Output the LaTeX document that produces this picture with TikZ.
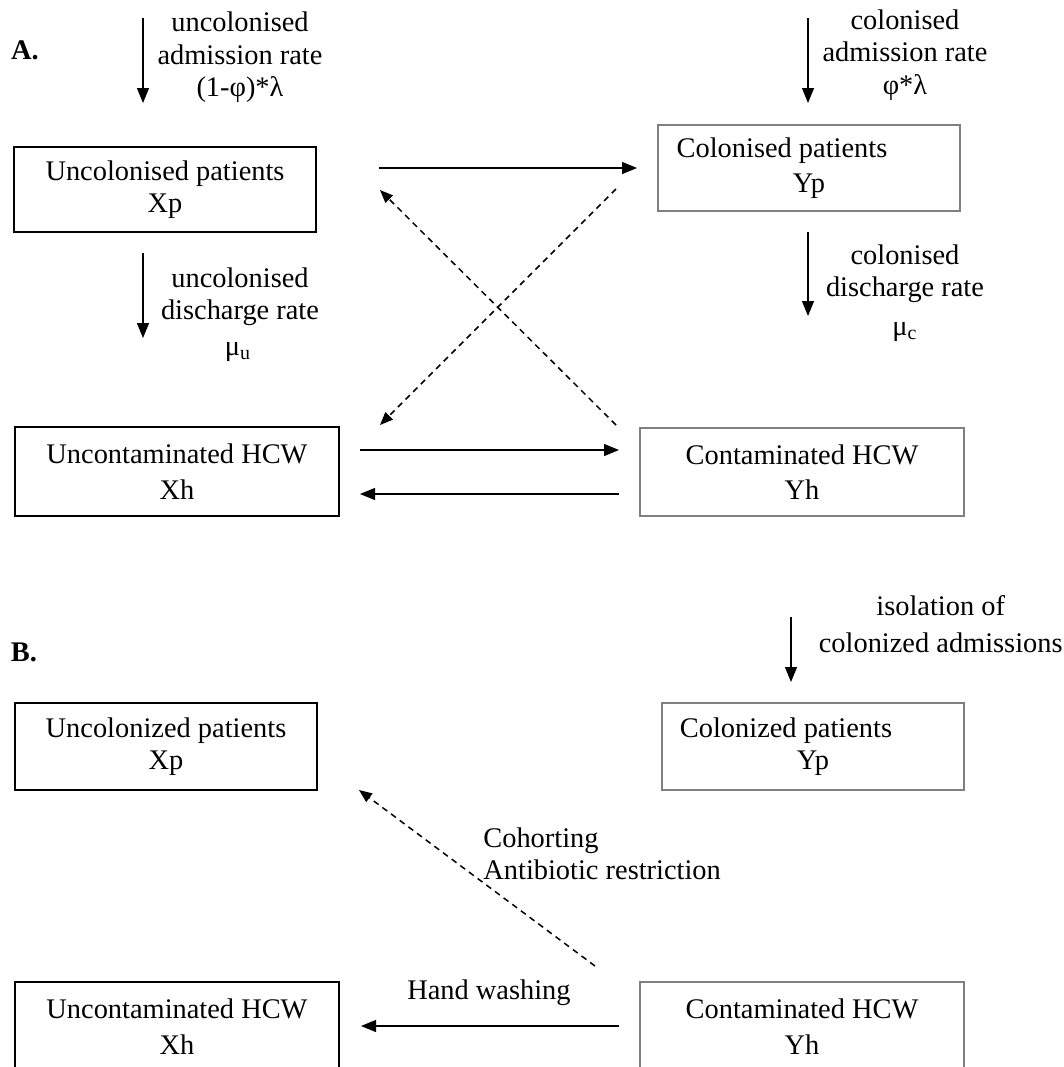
\documentclass[tikz,border=0pt]{standalone}
\usepackage{fontspec}
\setmainfont{Liberation Serif}
\usetikzlibrary{arrows.meta}

\begin{document}
\begin{tikzpicture}[x=0.5pt,y=-0.5pt,font=\fontsize{14.2}{16.2}\selectfont,
 mainbox/.style={draw,line width=1.2pt,inner sep=0pt,align=center,
 minimum width=#1,minimum height=43pt},
 sidebox/.style={draw=black!50,line width=0.7pt,inner sep=0pt,align=center,
 minimum width=#1,minimum height=43pt},
 flow/.style={line width=0.6pt,-{Triangle[length=7.5pt,width=6pt]}},
 contact/.style={line width=0.75pt,dash pattern=on 3pt off 2.4pt,
 -{Triangle[length=6.5pt,width=5.2pt]}},
 rate/.style={align=center,inner sep=0pt},
 panel/.style={font=\fontsize{14.2}{16.2}\selectfont\bfseries,inner sep=0pt},
 ]
 \useasboundingbox (0,0) rectangle (1064,1067);
 \clip (0,0) rectangle (1064,1067);
 % panel A
 \node[panel] (pa) at (25,50) {A.};
 \node[mainbox=151pt,minimum height=42.5pt] (xpa) at (165,189.5) {Uncolonised patients\\Xp};
 \node[sidebox=151pt] (ypa) at (809,168) {Colonised patients\hspace*{27pt}\\[1.5pt]Yp};
 \node[mainbox=162pt,minimum height=44.5pt] (xha) at (177,471.5) {Uncontaminated HCW\\[1.5pt]Xh};
 \node[sidebox=162pt,minimum height=44pt] (yha) at (802,472) {Contaminated HCW\\[1.5pt]Yh};
 \node[rate] (inua) at (240,57.5) {uncolonised\\admission rate\\(1-φ)*λ};
 \node[rate] (inca) at (905,55) {colonised\\admission rate\\φ*λ};
 \node[rate] (outua) at (240,296.5) {uncolonised\\discharge rate};
 \node[rate] (muu) at (238,352) {μ\textsubscript{u}};
 \node[rate] (outca) at (905,274) {colonised\\discharge rate};
 \node[rate] (muc) at (905,332) {μ\textsubscript{c}};
 \coordinate (a1) at (143,18); \coordinate (a2) at (143,103);
 \coordinate (a3) at (808,18); \coordinate (a4) at (808,103);
 \coordinate (a5) at (143,253); \coordinate (a6) at (143,338);
 \coordinate (a7) at (808,232); \coordinate (a8) at (808,316);
 \foreach \S/\E in {a1/a2,a3/a4,a5/a6,a7/a8}
 {\draw[flow] (\S) -- (\E);}
 \coordinate (xp-out) at (379,168); \coordinate (yp-in) at (637,168);
 \coordinate (xh-out) at (360,450); \coordinate (yh-in) at (619,450);
 \coordinate (yh-out) at (619,494); \coordinate (xh-in) at (360,494);
 \draw[flow] (xp-out) -- (yp-in);
 \draw[flow] (xh-out) -- (yh-in);
 \draw[flow] (yh-out) -- (xh-in);
 \coordinate (yh-up) at (616,425); \coordinate (xp-dn) at (380,190);
 \coordinate (yp-dn) at (616,189); \coordinate (xh-up) at (380,425);
 \draw[contact] (yh-up) -- (xp-dn);
 \draw[contact] (yp-dn) -- (xh-up);
 % panel B
 \node[panel] (pb) at (24,652) {B.};
 \node[mainbox=151pt,minimum height=43.5pt] (xpb) at (166,746.5) {Uncolonized patients\\Xp};
 \node[sidebox=151pt,minimum height=43.5pt] (ypb) at (813,746.5) {Colonized patients\hspace*{27pt}\\Yp};
 \node[mainbox=162pt,minimum height=44.5pt] (xhb) at (177,1026.5) {Uncontaminated HCW\\[1.5pt]Xh};
 \node[sidebox=162pt,minimum height=44.5pt] (yhb) at (802,1026.5) {Contaminated HCW\\[1.5pt]Yh};
 \node[rate,anchor=east] (iso) at (1063,624) {isolation of\\[2.5pt]colonized admissions};
 \node[rate,anchor=west,align=left] (coh) at (483,853.5) {Cohorting\\Antibiotic restriction};
 \node[rate] (hw) at (489,993) {Hand washing};
 \coordinate (b1) at (791,617); \coordinate (b2) at (791,682);
 \draw[flow] (b1) -- (b2);
 \coordinate (yhb-up) at (595,966); \coordinate (xpb-dn) at (359,790);
 \draw[contact] (yhb-up) -- (xpb-dn);
 \coordinate (yhb-out) at (619,1026); \coordinate (xhb-in) at (361,1026);
 \draw[flow] (yhb-out) -- (xhb-in);
\end{tikzpicture}
\end{document}
